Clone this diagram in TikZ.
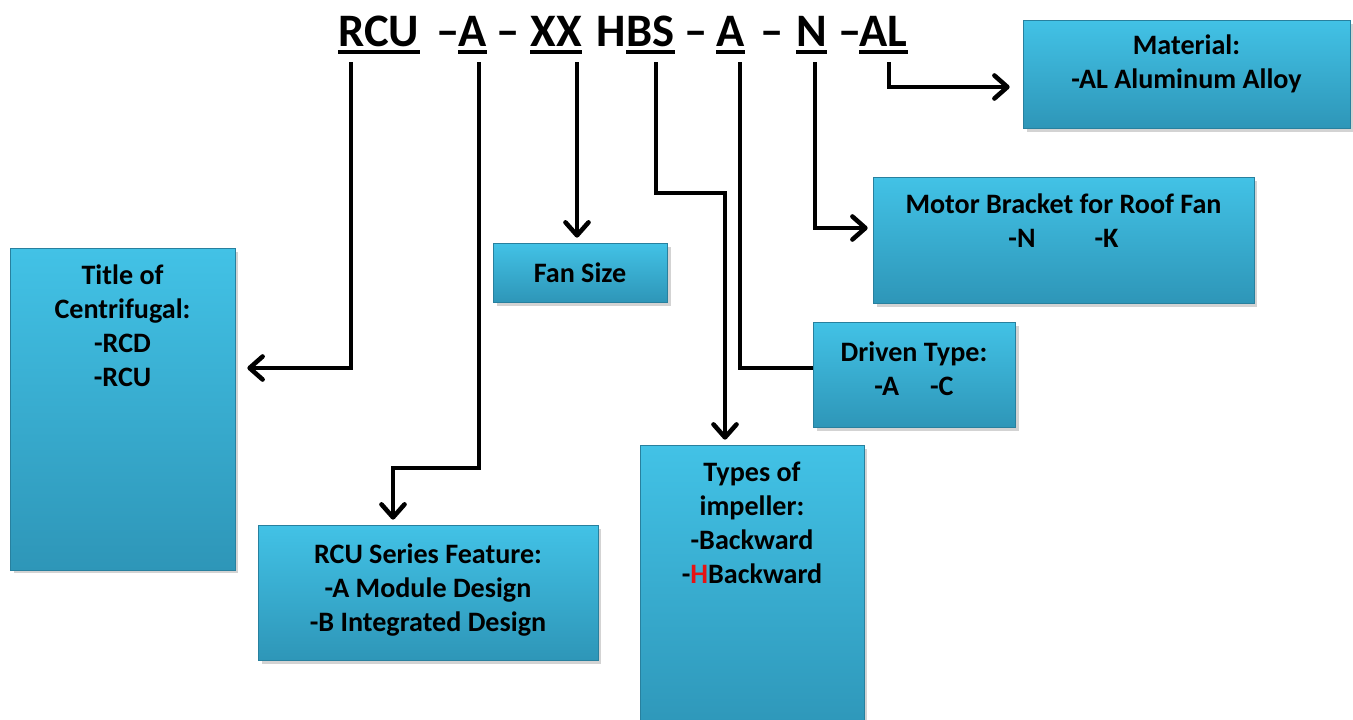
\documentclass[tikz,border=0pt]{standalone}
\usepackage{fontspec}
\setmainfont{Carlito}
\usepackage{tikz}
\usetikzlibrary{arrows.meta, shadows}

\definecolor{boxtop}{RGB}{66,194,230}
\definecolor{boxbot}{RGB}{46,150,184}
\definecolor{boxline}{RGB}{40,128,158}
\definecolor{hred}{RGB}{230,20,20}

\tikzset{
	infobox/.style = {rectangle, draw = boxline, line width = 0.4pt,
		top color = boxtop, bottom color = boxbot,
		drop shadow = {opacity = 0.35, shadow xshift = 2pt, shadow yshift = -2pt}},
	boxtext/.style = {anchor = north, inner sep = 0pt, align = center,
		font = \fontsize{16pt}{19.3pt}\selectfont\bfseries},
	titlepart/.style = {anchor = base west, inner sep = 0pt, text depth = 0pt,
		font = \fontsize{26.5pt}{30pt}\selectfont\bfseries},
	uline/.style = {line width = 0.08cm},
	conn/.style = {line width = 2.6pt, -{Straight Barb[length = 0.26cm, width = 0.46cm, round]}},
	plain/.style = {line width = 2.6pt}
}

\begin{document}
\begin{tikzpicture}[x = 0.02cm, y = -0.02cm]
	
		\useasboundingbox (0, 0) rectangle (1353, 720);
		
		% code line
		\node[titlepart] (t1) at (338, 47) {RCU};
		\node[titlepart] (d1) at (436, 47) {--};
		\node[titlepart] (t2) at (458, 47) {A};
		\node[titlepart] (d2) at (496, 47) {--};
		\node[titlepart] (t3) at (530, 47) {XX};
		\node[titlepart] (h) at (596, 47) {H};
		\node[titlepart] (t4) at (h.base east) {BS};
		\node[titlepart] (d4) at (684, 47) {--};
		\node[titlepart] (t5) at (716, 47) {A};
		\node[titlepart] (d5) at (760, 47) {--};
		\node[titlepart] (t6) at (796, 47) {N};
		\node[titlepart] (d6) at (838, 47) {--};
		\node[titlepart] (t7) at (859, 47) {AL};
		
		\foreach \p in {t1, t2, t3, t4, t5, t6, t7}
			\draw[uline] ([yshift = -0.1cm]\p.south west) -- ([yshift = -0.1cm]\p.south east);
		
		% boxes
		\node[infobox, minimum width = 4.5cm, minimum height = 6.44cm] (ttl) at (122.5, 409) {};
		\node[infobox, minimum width = 3.48cm, minimum height = 1.18cm] (fan) at (580, 272.5) {};
		\node[infobox, minimum width = 6.54cm, minimum height = 2.16cm] (mat) at (1186.5, 74) {};
		\node[infobox, minimum width = 7.62cm, minimum height = 2.52cm] (mot) at (1063.5, 240) {};
		\node[infobox, minimum width = 4.04cm, minimum height = 2.1cm] (drv) at (914, 374.5) {};
		\node[infobox, minimum width = 4.48cm, minimum height = 5.8cm] (imp) at (752, 590) {};
		\node[infobox, minimum width = 6.8cm, minimum height = 2.7cm] (feat) at (428, 592.5) {};
		
		\node[boxtext] (ttltext) at ([yshift = -0.34cm]ttl.north) {Title of\\Centrifugal:\\-RCD\\-RCU};
		\node[boxtext, anchor = center] (fantext) at (fan.center) {Fan Size};
		\node[boxtext] (mattext) at ([yshift = -0.30cm]mat.north) {Material:\\-AL Aluminum Alloy};
		\node[boxtext] (mottext) at ([yshift = -0.34cm]mot.north) {Motor Bracket for Roof Fan\\-N\hspace{2.1em}-K};
		\node[boxtext] (drvtext) at ([yshift = -0.40cm]drv.north) {Driven Type:\\-A\hspace{1.1em}-C};
		\node[boxtext] (imptext) at ([yshift = -0.34cm]imp.north) {Types of\\impeller:\\-Backward\\-{\color{hred}H}Backward};
		\node[boxtext] (feattext) at ([yshift = -0.38cm]feat.north) {RCU Series Feature:\\-A Module Design\\-B Integrated Design};
		
		% connectors
		\coordinate (c1) at (351, 62);
		\coordinate (c2) at (479, 62);
		\coordinate (c3) at (577, 62);
		\coordinate (c4) at (656, 62);
		\coordinate (c5) at (740, 62);
		\coordinate (c6) at (815, 62);
		\coordinate (c7) at (889, 62);
		
		\draw[conn, shorten >= 0.24cm] (c1) |- (ttl.east |- 0, 368);
		\draw[conn, shorten >= 0.1cm] (c2) |- (393, 468) -- (393, 468 |- feat.north);
		\draw[conn, shorten >= 0.1cm] (c3) -- (c3 |- fan.north);
		\draw[conn, shorten >= 0.1cm] (c4) |- (725, 193) -- (725, 193 |- imp.north);
		\draw[plain] (c5) |- (drv.west |- 0, 368);
		\draw[conn, shorten >= 0.1cm] (c6) |- (mot.west |- 0, 228);
		\draw[conn, shorten >= 0.26cm] (c7) |- (mat.west |- 0, 87);
		
	\end{tikzpicture}
\end{document}
